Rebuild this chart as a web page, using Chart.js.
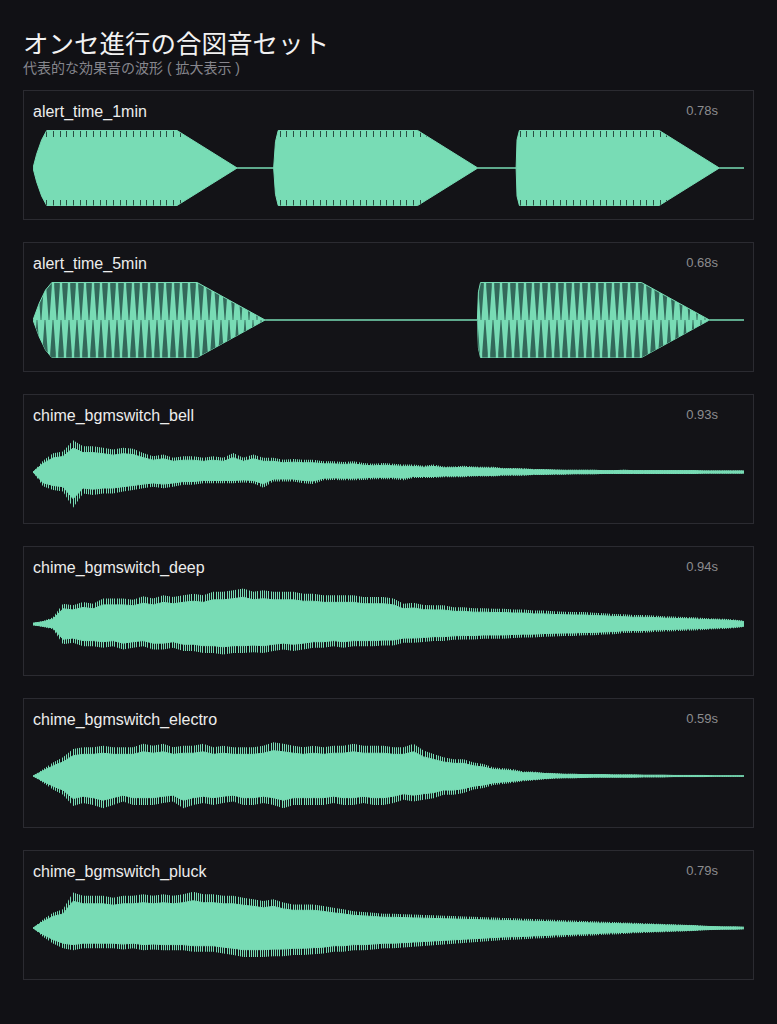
<!DOCTYPE html>
<html lang="ja">
<head>
<meta charset="utf-8">
<title>オンセ進行の合図音セット</title>
<script src="https://cdn.jsdelivr.net/npm/chart.js@4.4.1/dist/chart.umd.min.js"></script>
<style>
  html, body { margin: 0; padding: 0; background: #111115; }
  body { width: 777px; height: 1024px; position: relative; color: #ececec;
         font-family: "Liberation Sans", Arial, "Noto Sans CJK JP", sans-serif; }
  h1 { position: absolute; left: 23px; top: 29px; margin: 0; font-size: 25.5px; line-height: 25.5px;
       font-weight: 400; color: #f2f2f2; font-family: "Noto Sans CJK JP", sans-serif; }
  .sub { position: absolute; left: 23px; top: 61px; font-size: 14px; line-height: 14px;
         color: #86868d; font-family: "Liberation Sans", "Noto Sans CJK JP", sans-serif; }
  .panel { position: absolute; left: 23px; width: 729px; height: 128px;
           border: 1px solid #2b2b31; background: #131317; }
  .name { position: absolute; left: 9px; top: 13px; font-size: 16px; line-height: 16px; color: #ededed; }
  .dur { position: absolute; right: 35px; top: 13px; font-size: 13px; line-height: 13px; color: #8c8c8f; }
  .panel canvas { position: absolute; left: 9px; top: 32px; }
</style>
</head>
<body>
<h1>オンセ進行の合図音セット</h1>
<div class="sub">代表的な効果音の波形 ( 拡大表示 )</div>

<div class="panel" style="top:90px"><div class="name">alert_time_1min</div><div class="dur">0.78s</div><canvas id="w1" width="711" height="90"></canvas></div>
<div class="panel" style="top:242px"><div class="name">alert_time_5min</div><div class="dur">0.68s</div><canvas id="w2" width="711" height="90"></canvas></div>
<div class="panel" style="top:394px"><div class="name">chime_bgmswitch_bell</div><div class="dur">0.93s</div><canvas id="w3" width="711" height="90"></canvas></div>
<div class="panel" style="top:546px"><div class="name">chime_bgmswitch_deep</div><div class="dur">0.94s</div><canvas id="w4" width="711" height="90"></canvas></div>
<div class="panel" style="top:698px"><div class="name">chime_bgmswitch_electro</div><div class="dur">0.59s</div><canvas id="w5" width="711" height="90"></canvas></div>
<div class="panel" style="top:850px"><div class="name">chime_bgmswitch_pluck</div><div class="dur">0.79s</div><canvas id="w6" width="711" height="90"></canvas></div>

<script>
// alert tones: envelope corners (ms, amplitude %)
const alert1Ms  = [0, 4, 9.5, 15, 158, 224, 264, 266, 269, 422, 488, 530, 531, 533.6, 687, 753, 780];
const alert1Amp = [0, 37, 75, 100, 100, 0, 0, 70, 100, 100, 0, 0, 75, 100, 100, 0, 0];

const alert2Ms  = [0, 6, 12, 18, 157, 222, 425, 426, 428, 582, 647, 680];
const alert2Amp = [0, 45, 80, 100, 100, 0, 0, 75, 100, 100, 0, 0];

// chimes: peak per column (72 columns across the clip), amplitude %
const bellHi = [0,30,50,55,85,69,69,65,60,65,62,51,42,47,38,42,42,38,42,38,51,38,47,38,38,33,35,33,33,29,29,27,29,24,22,24,22,
                20,20,17,20,15,15,17,15,14,14,11,11,10,8,8,7,6,6,6,6,5,5,6,5,5,5,5,5,5,5,4,4,4,4,4];
const bellLo = [0,-38,-48,-52,-95,-57,-61,-57,-57,-52,-48,-43,-39,-43,-39,-34,-34,-30,-30,-30,-30,-28,-30,-42,-25,-25,-25,-30,-32,-22,-21,-22,-22,-21,-19,-19,-19,
                -22,-16,-16,-16,-14,-14,-14,-12,-12,-12,-10,-10,-10,-8,-8,-7,-7,-6,-6,-6,-5,-5,-5,-5,-5,-5,-5,-5,-5,-5,-4,-4,-4,-4,-4];

const deepHi = [3,8,18,54,50,59,54,68,68,68,65,74,68,77,72,77,81,77,86,86,90,95,86,90,86,86,86,81,81,77,77,77,77,72,72,72,68,
                54,57,51,50,50,45,45,42,42,41,41,39,39,36,36,34,33,32,32,30,29,27,26,24,24,23,21,20,19,18,16,15,14,12,9];
const deepLo = [-3,-8,-14,-54,-50,-59,-59,-63,-59,-68,-63,-59,-68,-68,-63,-72,-72,-77,-77,-81,-77,-77,-75,-77,-72,-68,-72,-68,-63,-63,-59,-63,-59,-59,-59,-57,-57,
                -50,-50,-48,-45,-45,-42,-41,-41,-39,-39,-39,-37,-36,-36,-34,-33,-32,-32,-30,-30,-28,-27,-24,-23,-23,-21,-20,-19,-18,-17,-16,-14,-13,-11,-8];

const electroHi = [0,18,36,50,72,77,77,81,77,77,77,86,81,86,77,81,81,86,77,81,77,77,77,81,90,86,81,77,81,77,81,81,86,81,81,81,77,
                   77,86,68,59,50,45,45,36,32,23,21,18,12,12,9,8,6,6,5,5,5,4,4,4,3,3,3,2,2,2,2,1,1,1,1];
const electroLo = [0,-18,-36,-50,-80,-72,-77,-86,-77,-68,-77,-77,-77,-72,-68,-86,-77,-72,-77,-72,-68,-77,-77,-72,-77,-86,-77,-77,-77,-77,-72,-77,-77,-72,-77,-77,-72,
                   -63,-68,-63,-59,-50,-50,-45,-36,-32,-24,-21,-18,-14,-12,-9,-7,-6,-6,-5,-4,-4,-4,-4,-4,-3,-3,-3,-2,-2,-2,-2,-1,-1,-1,-1];

const pluckHi = [0,23,41,50,95,86,86,86,81,86,86,90,86,90,86,90,97,90,90,86,86,81,77,72,77,68,63,63,63,59,54,50,45,43,41,38,38,
                 37,36,35,34,33,32,31,30,29,28,27,26,25,24,23,22,21,20,19,18,17,16,15,14,13,12,11,10,9,8,6,5,4,4,3];
const pluckLo = [0,-23,-41,-54,-59,-54,-54,-54,-54,-57,-54,-59,-57,-59,-59,-59,-63,-63,-63,-68,-72,-77,-77,-77,-75,-75,-72,-72,-70,-68,-63,-63,-59,-59,-57,-54,-54,
                 -52,-50,-48,-46,-44,-42,-40,-38,-36,-34,-32,-31,-30,-28,-27,-25,-24,-22,-21,-20,-18,-17,-16,-14,-13,-12,-11,-10,-9,-8,-6,-5,-4,-4,-3];

const MINT = '#78dcb5';
const TICK = '#2a4d41';
const H = 90, MID = 45;

function tile(w, paint) {
  const c = document.createElement('canvas');
  c.width = w; c.height = H;
  const g = c.getContext('2d');
  paint(g);
  return g.createPattern(c, 'repeat');
}

// square wave: solid with short cycle marks at the crest
const crestMarks = tile(20, g => {
  g.fillStyle = MINT; g.fillRect(0, 0, 20, H);
  g.fillStyle = TICK;
  [0, 7, 13].forEach(x => { g.fillRect(x, 0, 1, 14); g.fillRect(x, 77, 1, 13); });
});

// beating tone: light wedges from the centre line, dark lines between
const beatWedges = tile(8, g => {
  g.fillStyle = '#33695a'; g.fillRect(0, 0, 8, H);
  g.fillStyle = MINT;
  for (let y = 0; y < H; y++) {
    const d = Math.abs(y + 0.5 - MID);
    const w = 8 * Math.max(0.3, 0.9 - d / 55);
    const x0 = (y < MID ? 0 : 4) + (8 - w) / 2;
    [x0 - 8, x0, x0 + 8].forEach(x => g.fillRect(x, y, w, 1));
  }
});

// chimes: thin spikes out past the body
const hair = tile(11, g => {
  g.fillStyle = MINT;
  [0, 2, 4, 7, 9].forEach(x => g.fillRect(x, 0, 1, H));
});

const baseOpts = (maxX) => ({
  responsive: false,
  animation: false,
  events: [],
  layout: { padding: 0 },
  scales: {
    x: { type: 'linear', axis: 'x', min: 0, max: maxX, display: false },
    y: { type: 'linear', axis: 'y', min: -120, max: 120, display: false },
    body: { type: 'linear', axis: 'y', min: -160, max: 160, display: false }
  },
  plugins: { legend: { display: false }, tooltip: { enabled: false } }
});

const pts = (xs, arr) => xs.map((x, i) => ({ x: x, y: arr[i] }));
const neg = a => a.map(v => -v);

function drawAlert(id, xs, amp, maxX, fillStyle) {
  new Chart(document.getElementById(id), {
    type: 'line',
    data: {
      datasets: [
        { data: pts(xs, amp), borderColor: MINT, backgroundColor: fillStyle, borderWidth: 1, fill: '+1', pointRadius: 0, tension: 0 },
        { data: pts(xs, neg(amp)), borderColor: MINT, borderWidth: 1, fill: false, pointRadius: 0, tension: 0 }
      ]
    },
    options: baseOpts(maxX)
  });
}

function drawChime(id, hi, lo) {
  const xs = hi.map((v, i) => i);
  new Chart(document.getElementById(id), {
    type: 'line',
    data: {
      datasets: [
        // solid body (same peaks on a wider axis)
        { data: pts(xs, hi), yAxisID: 'body', borderColor: MINT, backgroundColor: MINT, borderWidth: 1, fill: '+1', pointRadius: 0, tension: 0 },
        { data: pts(xs, lo), yAxisID: 'body', borderColor: MINT, borderWidth: 1, fill: false, pointRadius: 0, tension: 0 },
        // spiky outer peaks
        { data: pts(xs, hi), yAxisID: 'y', borderWidth: 0, backgroundColor: hair, fill: '+1', pointRadius: 0, tension: 0 },
        { data: pts(xs, lo), yAxisID: 'y', borderWidth: 0, fill: false, pointRadius: 0, tension: 0 }
      ]
    },
    options: baseOpts(xs.length - 1)
  });
}

drawAlert('w1', alert1Ms, alert1Amp, 780, crestMarks);
drawAlert('w2', alert2Ms, alert2Amp, 680, beatWedges);
drawChime('w3', bellHi, bellLo);
drawChime('w4', deepHi, deepLo);
drawChime('w5', electroHi, electroLo);
drawChime('w6', pluckHi, pluckLo);
</script>
</body>
</html>
